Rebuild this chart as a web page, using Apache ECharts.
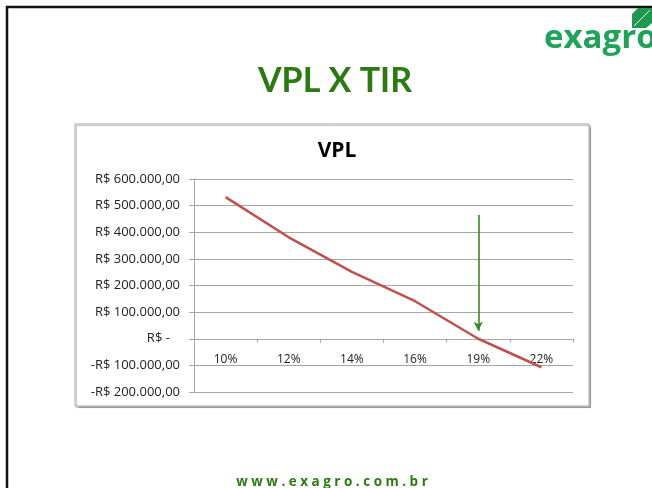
<!DOCTYPE html>
<html>
<head>
<meta charset="utf-8">
<script src="https://cdn.jsdelivr.net/npm/echarts@6/dist/echarts.min.js"></script>
<style>
  html, body { margin: 0; padding: 0; background: #fff; }
  #chart { width: 652px; height: 488px; }
</style>
</head>
<body>
<div id="chart"></div>
<script>
// taxa de desconto x VPL
var categories = ['10%', '12%', '14%', '16%', '19%', '22%']
var vplValues = [532000, 381000, 251000, 141000, 0, -107000]

var yTicks = [-200000, -100000, 0, 100000, 200000, 300000, 400000, 500000, 600000]
var yTickLabels = ['-R$ 200.000,00', '-R$ 100.000,00', 'R$ -   ', 'R$ 100.000,00', 'R$ 200.000,00',
  'R$ 300.000,00', 'R$ 400.000,00', 'R$ 500.000,00', 'R$ 600.000,00']

// seta marcando a TIR
var arrowCategory = '19%'
var arrowFrom = 465000
var arrowTo = 30000

var gridColor = '#a6a6a6'
var labelFont = 'Open Sans'

var chart = echarts.init(document.getElementById('chart'))
chart.setOption({
  animation: false,
  title: {
    text: 'VPL',
    left: 332,
    top: 136,
    textAlign: 'center',
    textStyle: {
      fontFamily: labelFont,
      fontSize: 21,
      fontWeight: 'bold',
      color: '#000'
    }
  },
  grid: {
    left: 194,
    right: 79,
    top: 179,
    bottom: 96
  },
  xAxis: {
    type: 'category',
    data: categories,
    boundaryGap: true,
    axisLine: {
      onZero: true,
      lineStyle: { color: gridColor, width: 1 }
    },
    axisTick: {
      show: true,
      interval: 0,
      length: 4,
      lineStyle: { color: gridColor }
    },
    axisLabel: {
      interval: 0,
      // rotulos logo abaixo da linha do zero, como no Excel
      margin: -38,
      fontFamily: labelFont,
      fontSize: 12,
      color: '#222'
    },
    splitLine: { show: false }
  },
  yAxis: {
    type: 'value',
    min: -200000,
    max: 600000,
    interval: 100000,
    axisLine: {
      show: true,
      lineStyle: { color: gridColor, width: 1 }
    },
    axisTick: {
      show: true,
      length: 5,
      lineStyle: { color: gridColor }
    },
    axisLabel: {
      margin: 14,
      fontFamily: labelFont,
      fontSize: 13,
      color: '#222',
      formatter: function (v) {
        var i = yTicks.indexOf(v)
        return i >= 0 ? yTickLabels[i] : ''
      }
    },
    splitLine: {
      show: true,
      lineStyle: { color: gridColor, width: 1 }
    }
  },
  series: [
    {
      name: 'VPL',
      type: 'line',
      data: vplValues,
      symbol: 'none',
      lineStyle: { color: '#c0504d', width: 2.5 },
      z: 3,
      markLine: {
        silent: true,
        symbol: ['none', 'arrow'],
        symbolSize: [7, 9],
        label: { show: false },
        lineStyle: { color: '#3a8a22', width: 1.6, type: 'solid' },
        data: [[
          { coord: [arrowCategory, arrowFrom] },
          { coord: [arrowCategory, arrowTo] }
        ]]
      }
    }
  ],
  graphic: [
    // moldura do slide
    {
      type: 'polyline',
      shape: { points: [[7, 488], [7, 7], [652, 7]] },
      style: { stroke: '#111', lineWidth: 2.5, fill: null },
      silent: true
    },
    // caixa do grafico
    {
      type: 'rect',
      shape: { x: 75, y: 124, width: 514, height: 282 },
      style: {
        fill: '#fff',
        stroke: '#a8a8a8',
        lineWidth: 1,
        shadowColor: 'rgba(0,0,0,0.25)',
        shadowOffsetX: 1.5,
        shadowOffsetY: 1.5,
        shadowBlur: 1
      },
      z: -10,
      silent: true
    },
    {
      type: 'text',
      x: 335,
      y: 64,
      style: {
        text: 'VPL X TIR',
        align: 'center',
        fontFamily: 'Lato',
        fontSize: 34,
        fontWeight: 'bold',
        fill: '#2b7a12'
      }
    },
    // logo
    {
      type: 'text',
      left: 544,
      top: 22,
      style: {
        text: 'exagro',
        fontFamily: 'Open Sans',
        fontSize: 33,
        fontWeight: 'bold',
        fill: '#1fa35a'
      }
    },
    {
      type: 'polygon',
      shape: { points: [[638, 8], [652, 8], [652, 23], [646, 28], [632, 28], [632, 14]] },
      style: { fill: '#1e9a4e' },
      silent: true
    },
    {
      type: 'line',
      shape: { x1: 634, y1: 26, x2: 650, y2: 10 },
      style: { stroke: '#fff', lineWidth: 1 },
      silent: true
    },
    {
      type: 'text',
      x: 332,
      y: 475,
      style: {
        text: 'w w w . e x a g r o . c o m . b r',
        align: 'center',
        fontFamily: 'Open Sans',
        fontSize: 13.5,
        fontWeight: 'bold',
        fill: '#2b7a12'
      }
    }
  ]
})
</script>
</body>
</html>
